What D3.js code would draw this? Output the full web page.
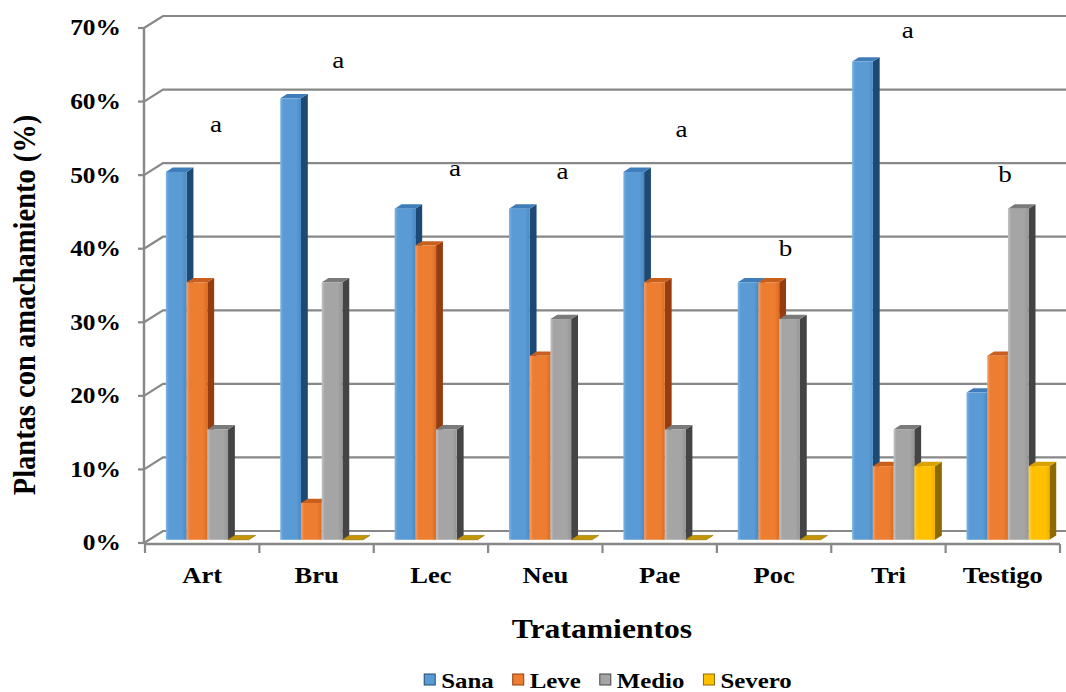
<!DOCTYPE html>
<html>
<head>
<meta charset="utf-8">
<script src="https://cdn.jsdelivr.net/npm/d3@7"></script>
<style>
  body { margin: 0; background: #ffffff; }
  text { fill: #000; }
</style>
</head>
<body>
<svg id="chart" width="1066" height="692"></svg>
<script>
// ---- data ----
const categories = ["Art", "Bru", "Lec", "Neu", "Pae", "Poc", "Tri", "Testigo"];
const seriesNames = ["Sana", "Leve", "Medio", "Severo"];
const sana   = [50, 60, 45, 45, 50, 35, 65, 20];
const leve   = [35,  5, 40, 25, 35, 35, 10, 25];
const medio  = [15, 35, 15, 30, 15, 30, 15, 45];
const severo = [ 0,  0,  0,  0,  0,  0, 10, 10];
const yTicks = [0, 10, 20, 30, 40, 50, 60, 70];
const tickFormat = v => v + "%";

// significance letters: letter, height (axis units) and offset across the category band
const letters      = ["a", "a", "a", "a", "a", "b", "a", "b"];
const letterLevel  = [55.9, 64.6, 49.9, 49.5, 55.2, 39.0, 68.6, 49.1];
const letterOffset = [0.12, 0.19, 0.21, 0.15, 0.19, 0.10, 0.17, 0.02];

const seriesValues = [sana, leve, medio, severo];

// ---- style ----
const FONT = "'Liberation Serif', 'Times New Roman', Times, serif";
const palette = {
  Sana:   { light: "#7cb4e6", base: "#5b9bd5", dark: "#4a89c4", top: "#3f7dba", side: "#1d4a74", flat: "#3f7dba" },
  Leve:   { light: "#f6a06a", base: "#ed7d31", dark: "#dc6c22", top: "#c85f1c", side: "#963c0f", flat: "#c85f1c" },
  Medio:  { light: "#c4c4c4", base: "#a5a5a5", dark: "#959595", top: "#7a7a7a", side: "#444444", flat: "#7a7a7a" },
  Severo: { light: "#ffd24d", base: "#ffc000", dark: "#f0b400", top: "#d9a200", side: "#8c6a00", flat: "#c59400" }
};
const gridColor = "#888888";
const hStretch = 1.13; // wide lettering

// ---- layout ----
const svg = d3.select("#chart");
const x = d3.scaleBand().domain(categories).range([145, 1060]).paddingInner(0).paddingOuter(0);
const y = d3.scaleLinear().domain([0, 70]).range([543, 28]);
const inner = d3.scaleBand().domain(seriesNames).range([0, x.bandwidth()]).paddingInner(0).paddingOuter(0.76);

const wall = { dx: 19, dy: -12 };          // floor depth (front edge -> back wall)
const barFront = 0.27, barBack = 0.63;     // bar slab position inside the depth
const fdx = wall.dx * barFront, fdy = wall.dy * barFront;
const bdx = wall.dx * (barBack - barFront), bdy = wall.dy * (barBack - barFront);

const axisX = 144;
const rightEdge = 1066;

// ---- gradients for the front faces ----
const defs = svg.append("defs");
seriesNames.forEach(s => {
  const g = defs.append("linearGradient").attr("id", "grad-" + s)
    .attr("x1", "0%").attr("x2", "100%").attr("y1", "0%").attr("y2", "0%");
  g.append("stop").attr("offset", "0%").attr("stop-color", palette[s].light);
  g.append("stop").attr("offset", "15%").attr("stop-color", palette[s].base);
  g.append("stop").attr("offset", "78%").attr("stop-color", palette[s].base);
  g.append("stop").attr("offset", "100%").attr("stop-color", palette[s].dark);
});

// ---- back wall gridlines with their floor-to-wall diagonals ----
const grid = svg.append("g").attr("class", "grid");
grid.selectAll("path.gl").data(yTicks).join("path")
  .attr("class", "gl")
  .attr("d", v => `M${axisX},${y(v)} L${axisX + wall.dx},${y(v) + wall.dy} L${rightEdge},${y(v) + wall.dy}`)
  .attr("fill", "none").attr("stroke", gridColor).attr("stroke-width", 2.2);

// ---- front vertical axis ----
const yAxisG = svg.append("g").attr("class", "y-axis");
yAxisG.append("line")
  .attr("x1", axisX).attr("x2", axisX).attr("y1", y(70)).attr("y2", y(0) + 1)
  .attr("stroke", gridColor).attr("stroke-width", 2.4);
yAxisG.selectAll("line.tk").data(yTicks).join("line")
  .attr("class", "tk")
  .attr("x1", axisX - 6).attr("x2", axisX).attr("y1", v => y(v)).attr("y2", v => y(v))
  .attr("stroke", gridColor).attr("stroke-width", 2.2);
yAxisG.selectAll("text").data(yTicks).join("text")
  .attr("transform", v => `translate(121,${y(v)}) scale(${hStretch},1)`)
  .attr("text-anchor", "end").attr("dominant-baseline", "central")
  .style("font-family", FONT)
  .style("font-size", "22.5px").style("font-weight", "bold")
  .text(tickFormat);

// ---- front horizontal axis ----
const xAxisG = svg.append("g").attr("class", "x-axis");
xAxisG.append("line")
  .attr("x1", axisX).attr("x2", x.range()[1]).attr("y1", y(0) + 1).attr("y2", y(0) + 1)
  .attr("stroke", gridColor).attr("stroke-width", 2.4);
const boundaries = categories.map(c => x(c)).concat([x.range()[1]]);
xAxisG.selectAll("line.tk").data(boundaries).join("line")
  .attr("class", "tk")
  .attr("x1", d => d).attr("x2", d => d).attr("y1", y(0) + 1).attr("y2", y(0) + 10)
  .attr("stroke", gridColor).attr("stroke-width", 2.2);
xAxisG.selectAll("text").data(categories).join("text")
  .attr("transform", c => `translate(${x(c) + x.bandwidth() / 2},583) scale(${hStretch},1)`)
  .attr("text-anchor", "middle")
  .style("font-family", FONT)
  .style("font-size", "23.5px").style("font-weight", "bold")
  .text(c => c);

// ---- 3D columns ----
const bars = [];
categories.forEach((c, ci) => {
  seriesNames.forEach((s, si) => {
    bars.push({ cat: c, series: s, value: seriesValues[si][ci] });
  });
});

const barsG = svg.append("g").attr("class", "bars");
const bw = inner.bandwidth();
bars.forEach(b => {
  const x0 = x(b.cat) + inner(b.series) + fdx;
  const x1 = x0 + bw;
  const yb = y(0) + fdy;
  const yt = y(b.value) + fdy;
  const col = palette[b.series];
  const g = barsG.append("g");
  if (b.value <= 0) {
    // flat slab on the floor
    g.append("path")
      .attr("d", `M${x0},${yb} L${x1},${yb} L${x1 + bdx},${yb + bdy} L${x0 + bdx},${yb + bdy} Z`)
      .attr("fill", col.flat).attr("stroke", col.side).attr("stroke-width", 0.6);
    return;
  }
  // side face
  g.append("path")
    .attr("d", `M${x1},${yt} L${x1 + bdx},${yt + bdy} L${x1 + bdx},${yb + bdy} L${x1},${yb} Z`)
    .attr("fill", col.side);
  // top face
  g.append("path")
    .attr("d", `M${x0},${yt} L${x1},${yt} L${x1 + bdx},${yt + bdy} L${x0 + bdx},${yt + bdy} Z`)
    .attr("fill", col.top);
  // front face
  g.append("rect")
    .attr("x", x0).attr("y", yt).attr("width", bw).attr("height", yb - yt)
    .attr("fill", `url(#grad-${b.series})`);
});

// ---- significance letters ----
svg.append("g").attr("class", "letters")
  .selectAll("text").data(categories).join("text")
  .attr("transform", (c, i) => `translate(${x(c) + x.bandwidth() * (0.5 + letterOffset[i])},${y(letterLevel[i])}) scale(${hStretch},1)`)
  .attr("text-anchor", "middle")
  .style("font-family", FONT)
  .style("font-size", "24px")
  .text((c, i) => letters[i]);

// ---- axis titles ----
svg.append("text")
  .attr("transform", `translate(602,638) scale(${hStretch},1)`)
  .attr("text-anchor", "middle")
  .style("font-family", FONT)
  .style("font-size", "28px").style("font-weight", "bold")
  .text("Tratamientos");

svg.append("text")
  .attr("transform", `translate(35,305) scale(${hStretch},1) rotate(-90)`)
  .attr("text-anchor", "middle")
  .style("font-family", FONT)
  .style("font-size", "28.5px").style("font-weight", "bold")
  .text("Plantas con amachamiento (%)");

// ---- legend ----
const legend = svg.append("g").attr("class", "legend");
const items = legend.selectAll("g").data(seriesNames).join("g");
items.append("rect")
  .attr("width", 11).attr("height", 11).attr("y", -11)
  .attr("fill", s => palette[s].base).attr("stroke", s => palette[s].side).attr("stroke-width", 1);
items.append("text")
  .attr("transform", `translate(17,3) scale(${hStretch},1)`)
  .style("font-family", FONT)
  .style("font-size", "22px").style("font-weight", "bold")
  .text(s => s);
// lay out items one after another, centred under the plot
const gap = 19;
let cursor = 0;
const offsets = [];
items.each(function () {
  offsets.push(cursor);
  const w = 17 + this.querySelector("text").getComputedTextLength() * hStretch;
  cursor += w + gap;
});
const totalW = cursor - gap;
const legendLeft = 608 - totalW / 2;
items.attr("transform", (s, i) => `translate(${legendLeft + offsets[i]},685)`);
</script>
</body>
</html>
